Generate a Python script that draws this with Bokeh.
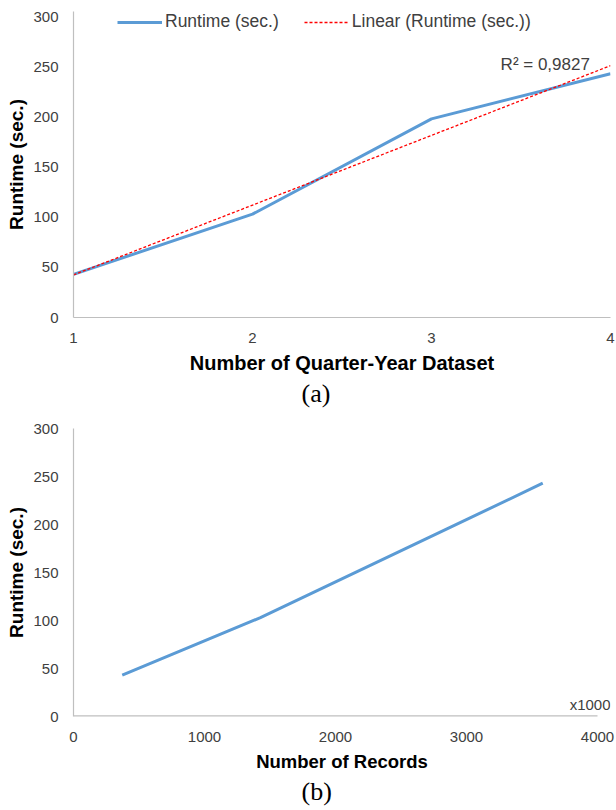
import numpy as np
from bokeh.plotting import figure
from bokeh.layouts import column
from bokeh.models import Legend, LegendItem, Label, FixedTicker, Range1d, Title
from bokeh.embed import file_html
from bokeh.resources import INLINE

# ---- data ----
quarters = [1, 2, 3, 4]
runtime_sec = [43, 103, 198, 243]
records_k = [372, 1427, 2891, 3582]          # number of records (x1000)
runtime_sec_b = [43, 103, 198, 243]
r2_text = "R\u00b2 = 0,9827"
y_ticks = [0, 50, 100, 150, 200, 250, 300]
x_ticks_a = [1, 2, 3, 4]
x_ticks_b = [0, 1000, 2000, 3000, 4000]

SANS = "Liberation Sans"
SERIF = "Liberation Serif"
TICK_COLOR = "#404040"
AXIS_COLOR = "#BFBFBF"
BLUE = "#5B9BD5"
RED = "#FF0000"

FRAME_W = 537          # both plot frames share the same horizontal extent
B_PX_PER_1000 = 131.0  # bottom chart pixel scale
b_x_end = FRAME_W / B_PX_PER_1000 * 1000
A_FRAME_H = 306        # top frame a bit taller than the 0..300 span (room for legend)
a_y_end = 300 * A_FRAME_H / 301


def style(p, title_size):
    p.grid.visible = False
    p.outline_line_color = None
    for ax in (p.xaxis[0], p.yaxis[0]):
        ax.axis_line_color = AXIS_COLOR
        ax.axis_line_width = 1.2
        ax.major_tick_line_color = None
        ax.minor_tick_line_color = None
        ax.major_tick_out = 0
        ax.major_tick_in = 0
        ax.minor_tick_out = 0
        ax.minor_tick_in = 0
        ax.major_label_text_font = SANS
        ax.major_label_text_font_size = "15px"
        ax.major_label_text_color = TICK_COLOR
        ax.axis_label_text_font = SANS
        ax.axis_label_text_font_style = "bold"
        ax.axis_label_text_color = "black"
    p.yaxis[0].axis_label_text_font_size = "19px"
    p.xaxis[0].axis_label_text_font_size = title_size
    p.yaxis[0].major_label_standoff = 15
    p.yaxis[0].axis_label_standoff = 3
    p.xaxis[0].major_label_standoff = 15
    p.xaxis[0].axis_label_standoff = 6


def caption(text):
    return Title(text=text, align="left", offset=228, standoff=0,
                 text_font=SERIF, text_font_size="26px",
                 text_font_style="normal", text_color="black")


# ---- chart (a) ----
p1 = figure(width=616, height=413, output_backend="svg", toolbar_location=None,
            x_range=Range1d(1, 4), y_range=Range1d(0, a_y_end),
            min_border_left=73, min_border_right=6, min_border_top=11,
            min_border_bottom=96, background_fill_color="white",
            border_fill_color="white")
style(p1, "20px")
p1.xaxis[0].ticker = FixedTicker(ticks=x_ticks_a)
p1.yaxis[0].ticker = FixedTicker(ticks=y_ticks)
p1.xaxis[0].axis_label = "Number of Quarter-Year Dataset"
p1.yaxis[0].axis_label = "Runtime (sec.)"

r_line = p1.line(quarters, runtime_sec, line_color=BLUE, line_width=3)
coef = np.polyfit(quarters, runtime_sec, 1)
trend_x = [quarters[0], quarters[-1]]
trend_y = [float(np.polyval(coef, v)) for v in trend_x]
r_trend = p1.line(trend_x, trend_y, line_color=RED, line_width=1.3, line_dash="3 2")

legend = Legend(items=[LegendItem(label="Runtime (sec.)", renderers=[r_line]),
                       LegendItem(label="Linear (Runtime (sec.))", renderers=[r_trend])],
                orientation="horizontal", location=(44, 285),
                glyph_width=45, glyph_height=20, label_height=20,
                label_standoff=3, spacing=25, padding=0, margin=0,
                label_text_font=SANS, label_text_font_size="17.5px",
                label_text_color=TICK_COLOR,
                border_line_alpha=0, background_fill_alpha=0)
p1.add_layout(legend)

p1.add_layout(Label(x=3.885, y=252, text=r2_text, text_align="right",
                    text_baseline="middle", text_font=SANS,
                    text_font_size="17px", text_color=TICK_COLOR))
p1.add_layout(caption("(a)"), "below")

# ---- chart (b) ----
p2 = figure(width=616, height=397, output_backend="svg", toolbar_location=None,
            x_range=Range1d(0, b_x_end), y_range=Range1d(0, 300),
            min_border_left=73, min_border_right=6, min_border_top=15,
            min_border_bottom=94, background_fill_color="white",
            border_fill_color="white")
style(p2, "18.5px")
p2.xaxis[0].ticker = FixedTicker(ticks=x_ticks_b)
p2.yaxis[0].ticker = FixedTicker(ticks=y_ticks)
p2.xaxis[0].axis_label = "Number of Records"
p2.yaxis[0].axis_label = "Runtime (sec.)"
p2.xaxis[0].axis_line_color = None
# visible x-axis line only over the tick span 0..4000
p2.line([x_ticks_b[0], x_ticks_b[-1]], [0, 0], line_color=AXIS_COLOR, line_width=2.4)
p2.line(records_k, runtime_sec_b, line_color=BLUE, line_width=3)

p2.add_layout(Label(x=b_x_end, y=13, text="x1000", text_align="right",
                    text_baseline="middle", text_font=SANS,
                    text_font_size="15px", text_color=TICK_COLOR))
p2.add_layout(caption("(b)"), "below")

layout = column(p1, p2, spacing=0)
open("out.html", "w").write(file_html(layout, INLINE))
